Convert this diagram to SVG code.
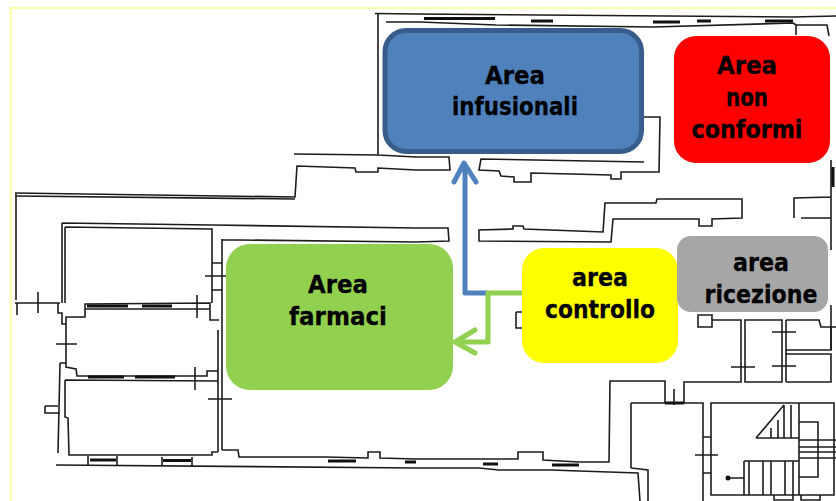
<svg xmlns="http://www.w3.org/2000/svg" width="836" height="501" viewBox="0 0 836 501">
<style>
.w{fill:none;stroke:#1c1c1c;stroke-width:1.600}
.d{fill:none;stroke:#111;stroke-width:3}
.n{stroke:none}
.t{font-family:"DejaVu Sans","Liberation Sans",sans-serif;font-weight:700;font-size:25px;fill:#000;stroke:#000;stroke-width:.3;text-anchor:middle}
.c{fill:none;stroke-width:5;stroke-linecap:round;stroke-linejoin:round}
</style>
<rect width="836" height="501" fill="#fff"/>
<path d="M10.500 501V8H836" fill="none" stroke="#ffff90" stroke-width="1.500"/>
<g id="plan">
<path class="w" d="M375 13.500L416 14L793 17L836 16M386 22L420 22L496 25L653 27L793 23M793 23L796 25L827 25L829 36M796 25V35"/>
<path class="d" d="M424 18.500H495M531 21H553M653 22H680M697 21H711M765 21H793"/>
<path class="w" d="M378 13V155M294 154L378 155L416 157L449 157L450 170L416 170L378 168V172L356 172L355 168L297 166L295 197L15 193M16 193V300M15 196L295 199"/>
<path class="w" d="M644 117H660L659 172H621V179H611V175L531 173V182H514V177L501 176L499 171L479 170L481 159L644 162"/>
<path class="w" d="M416 228H448L449 241L416 242L240 240H222M479 230L513 229V226H523L524 229L603 232L605 203H656L657 199H742V218L712 219V226H699V219L613 219L611 242L479 241Z"/>
<path class="w" d="M794 218V198L831 197M801 218H831V236M831 160V250M831 305V350"/>
<path class="d" d="M833 167V187"/>
<path class="w" d="M62 223L212 225L416 228M65 227L212 229V303M222 239V250M62 223V303M65 227V303M222 250V450M218 330V452M212 263H222M212 290H222M205 276H226"/>
<path class="w" d="M15 303H60M17 303V315M38 292V313M58 303V313H62V324H66V317H85V304L210 303V320H219M85 309H210M197 295V318M66 324V367L76 369L77 376H207V371H218M60 363H66M60 363L58 453M65 380L218 381M195 367V390M208 399H232M56 344H77M65 380V417L68 418L69 455H212V452H218M45 406H58M45 406V413H60"/>
<path class="d" d="M87 306H128M142 306H172M88 377H124M135 377H175"/>
<path class="w" d="M56 465L416 468L479 468L499 470H551L579 471L638 473L640 501M88 456V465M117 456V465M162 457V466M192 457V466M222 450H238L239 457H325L368 458V452H380V458L416 459H518V452H543V460L579 462H609L610 381H665V403H684V382H741V320H712M631 468L648 470V501"/>
<path class="d" d="M90 460H116M163 460.500H191M328 461H356M405 462H416M483 464H498M552 465H579"/>
<path class="w" d="M698 315H712V327H698ZM516 312H523M516 312V328H523M745 320H782V382H745ZM786 320H819L821 327H836M786 350H831V327M786 354H831V382H786M786 320V382M772 332H796M772 366H796M731 367H755M674 389V405"/>
<path class="w" d="M631 403H703V501M631 403V468M711 403H834V495H711ZM703 437H711M703 473H711M695 455H718M756 438L784 405M756 438H799M784 405V438M791 405V438M799 403V495M778 420V438M771 428V438M799 422H818V477H799M799 440H836M799 447H836M799 452H836M799 458H836M744 461H799M744 461V495M749 461V495M763 461V495M771 461V495M785 461V495M793 461V495M744 478H728M774 495H793V500H774ZM801 495H820V500H801Z"/>
<path class="d" d="M665 403H684"/>
<circle cx="728" cy="478" r="2.500" fill="#111"/>
</g>
<g id="connectors">
<path class="c" stroke="#4f81bd" d="M487 293H465V165M454 182L464 163L476 182"/>
<path class="c" stroke="#92d050" d="M524 293H488V342H456M475 330L455 342L475 353"/>
</g>
<g id="node-infusionali">
<rect x="385" y="30.500" width="256.500" height="121" rx="21" fill="#4f81bd" stroke="#385d8a" stroke-width="5"/>
<text class="t" x="515" y="84" textLength="60" lengthAdjust="spacingAndGlyphs">Area</text>
<text class="t" x="515" y="115" textLength="126" lengthAdjust="spacingAndGlyphs">infusionali</text>
</g>
<g id="node-non-conformi">
<rect class="n" x="674" y="36" width="156" height="127" rx="22" fill="#ff0000"/>
<text class="t" x="747" y="74" textLength="60" lengthAdjust="spacingAndGlyphs">Area</text>
<text class="t" x="747" y="106" textLength="42" lengthAdjust="spacingAndGlyphs">non</text>
<text class="t" x="747" y="138" textLength="111" lengthAdjust="spacingAndGlyphs">conformi</text>
</g>
<g id="node-farmaci">
<rect class="n" x="226" y="244" width="227" height="146" rx="24" fill="#92d050"/>
<text class="t" x="338" y="293" textLength="60" lengthAdjust="spacingAndGlyphs">Area</text>
<text class="t" x="338" y="325" textLength="98" lengthAdjust="spacingAndGlyphs">farmaci</text>
</g>
<g id="node-controllo">
<rect class="n" x="522" y="248" width="156" height="115" rx="22" fill="#ffff00"/>
<text class="t" x="600" y="286" textLength="56" lengthAdjust="spacingAndGlyphs">area</text>
<text class="t" x="600" y="318" textLength="110" lengthAdjust="spacingAndGlyphs">controllo</text>
</g>
<g id="node-ricezione">
<rect class="n" x="677" y="236" width="151" height="76" rx="14" fill="#a6a6a6"/>
<text class="t" x="761" y="271" textLength="56" lengthAdjust="spacingAndGlyphs">area</text>
<text class="t" x="761" y="303" textLength="113" lengthAdjust="spacingAndGlyphs">ricezione</text>
</g>
</svg>
